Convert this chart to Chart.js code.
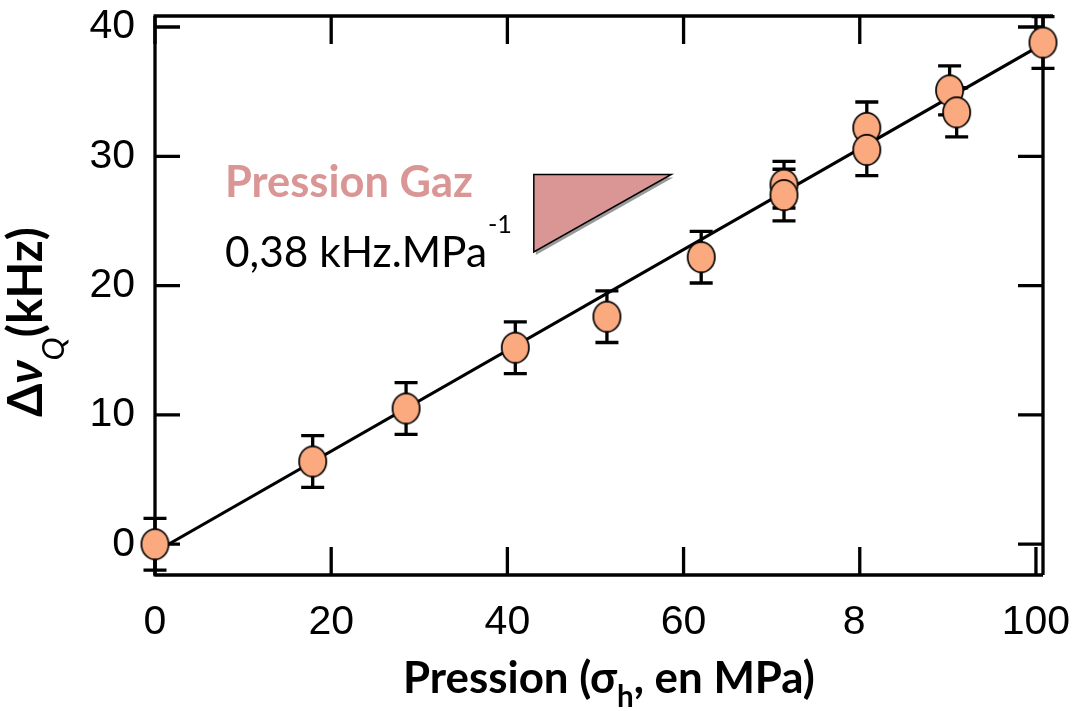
<!DOCTYPE html>
<html>
<head>
<meta charset="utf-8">
<script src="https://cdn.jsdelivr.net/npm/chart.js@4.4.0/dist/chart.umd.min.js"></script>
<style>
  html, body { margin: 0; padding: 0; background: #fff; }
</style>
</head>
<body>
<canvas id="myChart" width="1075" height="711"></canvas>
<script>
  // values
  var pressure = [0, 17.9, 28.5, 40.9, 51.3, 62.0, 71.4, 71.4, 80.8, 80.8, 90.2, 91.0, 100.8];
  var dnuQ     = [0, 6.4, 10.5, 15.2, 17.6, 22.2, 27.8, 27.0, 32.2, 30.5, 35.1, 33.4, 38.8];
  var dnuErr   = [2.0, 2.0, 2.0, 2.0, 2.0, 2.0, 1.8, 2.0, 2.0, 2.0, 1.9, 1.9, 2.0];

  // linear fit drawn on the figure
  var fitX = [0, 100.8];
  var fitY = [-0.6, 38.7];

  var xTicks = [0, 20, 40, 60, 80, 100];
  var xTickLabels = ['0', '20', '40', '60', '8 ', '100'];
  var yTicks = [0, 10, 20, 30, 40];

  // slope triangle (data units)
  var triX = [43.0, 58.6, 43.0];
  var triY = [28.6, 28.6, 22.6];

  var TF = "Lato, 'Noto Sans', sans-serif";
  var pink = '#D99694';

  function marker() {
    var c = document.createElement('canvas');
    c.width = 31; c.height = 34;
    var g = c.getContext('2d');
    g.beginPath();
    g.ellipse(15.5, 17, 13.6, 15.2, 0, 0, 2 * Math.PI);
    g.fillStyle = '#FBA97F';
    g.fill();
    g.lineWidth = 1.7;
    g.strokeStyle = '#000';
    g.stroke();
    return c;
  }

  // draws text runs (with sub/superscripts) scaled to a given width
  function drawRich(ctx, segs, x, y, width, align) {
    var total = 0, i;
    for (i = 0; i < segs.length; i++) {
      ctx.font = segs[i].style + ' ' + segs[i].size + 'px ' + TF;
      total += ctx.measureText(segs[i].t).width;
    }
    var k = width ? width / total : 1;
    var cx = align === 'center' ? x - total * k / 2 : x;
    for (i = 0; i < segs.length; i++) {
      ctx.font = segs[i].style + ' ' + (segs[i].size * k) + 'px ' + TF;
      ctx.fillText(segs[i].t, cx, y + (segs[i].dy || 0));
      cx += ctx.measureText(segs[i].t).width;
    }
  }

  var decor = {
    id: 'decor',
    beforeDatasetsDraw: function(chart) {
      var ctx = chart.ctx, a = chart.chartArea;
      var xs = chart.scales.x, ys = chart.scales.y;
      ctx.save();
      ctx.strokeStyle = '#000';
      ctx.lineWidth = 3.3;
      ctx.lineCap = 'butt';

      // frame
      ctx.beginPath();
      ctx.moveTo(a.left, a.bottom); ctx.lineTo(a.right, a.bottom);
      ctx.moveTo(a.right, a.bottom); ctx.lineTo(a.right, a.top);
      ctx.moveTo(a.left - 1.5, a.top); ctx.lineTo(a.right + 10, a.top);
      ctx.moveTo(a.left, a.top); ctx.lineTo(a.left, a.bottom + 1.5);
      ctx.stroke();

      // inward ticks on the four sides
      ctx.beginPath();
      xs.ticks.forEach(function(t) {
        var px = xs.getPixelForValue(t.value);
        ctx.moveTo(px, a.bottom); ctx.lineTo(px, a.bottom - 28);
        ctx.moveTo(px, a.top); ctx.lineTo(px, a.top + 28);
      });
      ys.ticks.forEach(function(t) {
        var py = ys.getPixelForValue(t.value);
        ctx.moveTo(a.left, py); ctx.lineTo(a.left + 25, py);
        ctx.moveTo(a.right, py); ctx.lineTo(a.right - 25, py);
      });
      ctx.stroke();

      // error bars
      ctx.beginPath();
      for (var i = 0; i < pressure.length; i++) {
        var px = xs.getPixelForValue(pressure[i]);
        var top = ys.getPixelForValue(dnuQ[i] + dnuErr[i]);
        var bot = ys.getPixelForValue(dnuQ[i] - dnuErr[i]);
        ctx.moveTo(px, top); ctx.lineTo(px, bot);
        ctx.moveTo(px - 11.5, top); ctx.lineTo(px + 11.5, top);
        ctx.moveTo(px - 11.5, bot); ctx.lineTo(px + 11.5, bot);
      }
      ctx.stroke();

      // slope triangle with its shadow
      var p = triX.map(function(v, j) {
        return [xs.getPixelForValue(v), ys.getPixelForValue(triY[j])];
      });
      ctx.beginPath();
      ctx.moveTo(p[0][0] + 2, p[0][1] + 3);
      ctx.lineTo(p[1][0] + 2, p[1][1] + 3);
      ctx.lineTo(p[2][0] + 2, p[2][1] + 3);
      ctx.closePath();
      ctx.fillStyle = '#9a9a9a';
      ctx.fill();
      ctx.beginPath();
      ctx.moveTo(p[0][0], p[0][1]);
      ctx.lineTo(p[1][0], p[1][1]);
      ctx.lineTo(p[2][0], p[2][1]);
      ctx.closePath();
      ctx.fillStyle = pink;
      ctx.fill();
      ctx.lineWidth = 1.5;
      ctx.stroke();
      ctx.restore();
    },
    afterDraw: function(chart) {
      var ctx = chart.ctx;
      ctx.save();
      ctx.textBaseline = 'alphabetic';
      ctx.textAlign = 'left';

      // annotation
      ctx.fillStyle = pink;
      drawRich(ctx, [{ t: 'Pression Gaz', style: 'bold', size: 40 }], 225, 197, 248);
      ctx.fillStyle = '#000';
      drawRich(ctx, [{ t: '0,38 kHz.MPa', style: 'normal', size: 40 }], 225, 267, 262);
      drawRich(ctx, [{ t: '-1', style: 'normal', size: 20 }], 488, 233, 24);

      // x axis title
      drawRich(ctx, [
        { t: 'Pression (σ', style: 'bold', size: 40 },
        { t: 'h', style: 'bold', size: 27, dy: 14 },
        { t: ', en MPa)', style: 'bold', size: 40 }
      ], 609, 693, 412, 'center');

      // y axis title
      ctx.translate(42, 322);
      ctx.rotate(-Math.PI / 2);
      drawRich(ctx, [
        { t: 'Δ', style: 'bold', size: 40 },
        { t: 'ν', style: 'italic bold', size: 40 },
        { t: 'Q', style: 'italic', size: 26, dy: 22 },
        { t: '(kHz)', style: 'bold', size: 40 }
      ], 0, 0, 190, 'center');
      ctx.restore();
    }
  };

  var ctx = document.getElementById('myChart').getContext('2d');
  var myChart = new Chart(ctx, {
    type: 'scatter',
    data: {
      datasets: [{
        label: 'data',
        data: pressure.map(function(x, i) { return { x: x, y: dnuQ[i] }; }),
        pointStyle: marker(),
        pointRadius: 15,
        clip: false,
        order: 0
      }, {
        type: 'line',
        label: 'fit',
        data: fitX.map(function(x, i) { return { x: x, y: fitY[i] }; }),
        borderColor: '#000',
        borderWidth: 3.2,
        pointRadius: 0,
        fill: false,
        order: 1
      }]
    },
    plugins: [decor],
    options: {
      responsive: false,
      animation: false,
      events: [],
      layout: { padding: { top: 13, right: 32, bottom: 0, left: 0 } },
      plugins: { legend: { display: false }, tooltip: { enabled: false } },
      scales: {
        x: {
          type: 'linear',
          min: 0,
          max: 100.8,
          grid: { display: false },
          border: { display: false },
          afterBuildTicks: function(s) { s.ticks = xTicks.map(function(v) { return { value: v }; }); },
          afterFit: function(s) { s.height = 136; s.paddingLeft = 0; s.paddingRight = 0; },
          ticks: {
            maxRotation: 0,
            autoSkip: false,
            padding: 15,
            color: '#000',
            font: { family: "'Liberation Sans', Arial, sans-serif", size: 41 },
            callback: function(v, i) { return xTickLabels[i]; }
          }
        },
        y: {
          type: 'linear',
          min: -2.38,
          max: 40.85,
          grid: { display: false },
          border: { display: false },
          afterBuildTicks: function(s) { s.ticks = yTicks.map(function(v) { return { value: v }; }); },
          afterFit: function(s) { s.width = 155; s.paddingTop = 0; s.paddingBottom = 0; },
          ticks: {
            padding: 12,
            color: '#000',
            font: { family: "'Liberation Sans', Arial, sans-serif", size: 41 }
          }
        }
      }
    }
  });
</script>
</body>
</html>
